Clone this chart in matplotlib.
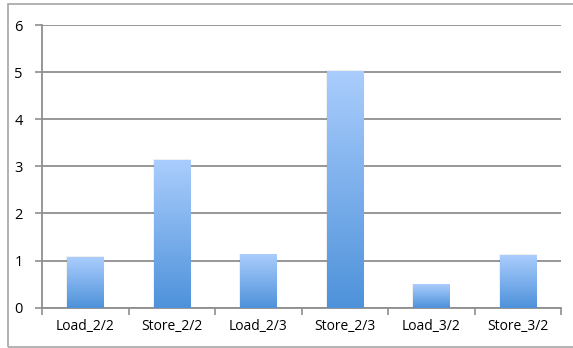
import numpy as np
import matplotlib
matplotlib.use("Agg")
import matplotlib.pyplot as plt
from matplotlib.colors import LinearSegmentedColormap
from matplotlib.patches import Rectangle

labels = ["Load_2/2", "Store_2/2", "Load_2/3", "Store_2/3", "Load_3/2", "Store_3/2"]
values = [1.08, 3.14, 1.13, 5.03, 0.49, 1.11]
yticks = [0, 1, 2, 3, 4, 5, 6]

plt.rcParams['font.family'] = ['Open Sans', 'DejaVu Sans']

W, H = 573, 348
fig = plt.figure(figsize=(W / 100, H / 100), dpi=100)

# outer chart frame
fig.patches.append(Rectangle((8 / W, 1 - 347 / H), 570 / W, 343 / H,
                             transform=fig.transFigure, fill=False,
                             edgecolor="#a6a6a6", linewidth=1.2))

ax = fig.add_axes([42 / W, (H - 307.7) / H, (561 - 42) / W, (307.7 - 25) / H])

grad = LinearSegmentedColormap.from_list("bar", ["#4e92da", "#aacdfd"])
x = np.arange(len(labels))
width = 0.42
g = np.linspace(0, 1, 256).reshape(-1, 1)
for xi, v in zip(x, values):
    # soft shadow behind the bar
    ax.add_patch(Rectangle((xi - width / 2 - 0.01, 0), width + 0.02, v + 0.02,
                           facecolor="#000000", alpha=0.06, edgecolor="none",
                           zorder=2))
    ax.imshow(g, cmap=grad, origin="lower", aspect="auto",
              extent=(xi - width / 2, xi + width / 2, 0, v), zorder=3,
              interpolation="bilinear")

ax.set_xlim(-0.5, len(labels) - 0.5)
ax.set_ylim(0, 6)
ax.set_yticks(yticks)
ax.set_yticklabels([str(t) for t in yticks], fontsize=10.5)
ax.yaxis.grid(True, color="#8f8f8f", linewidth=1.3)
ax.set_axisbelow(True)

ax.set_xticks(x)
ax.set_xticklabels(labels, fontsize=10)
ax.set_xticks(np.arange(-0.5, len(labels)), minor=True)
ax.tick_params(axis="x", which="major", length=0, pad=8)
ax.tick_params(axis="x", which="minor", length=5, color="#8f8f8f", width=1.2)
ax.tick_params(axis="y", length=5, color="#8f8f8f", width=1.2, pad=9)

for s in ["top", "right"]:
    ax.spines[s].set_visible(False)
for s in ["left", "bottom"]:
    ax.spines[s].set_color("#8f8f8f")
    ax.spines[s].set_linewidth(1.3)

fig.savefig("out.png", dpi=100)
